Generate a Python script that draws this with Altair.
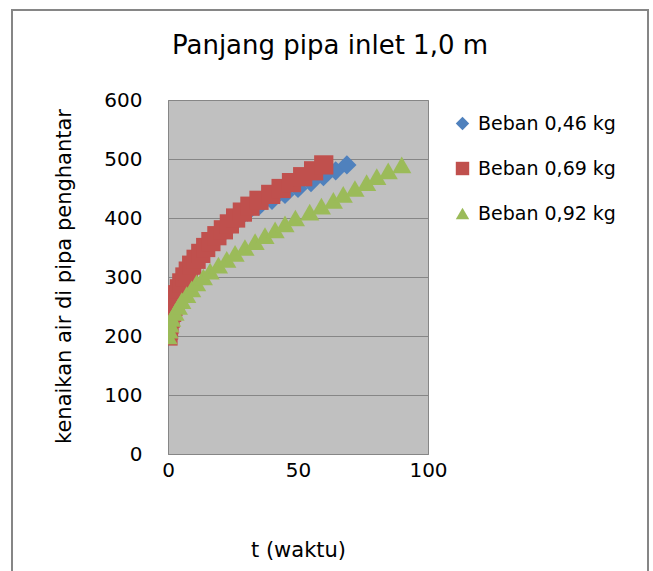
import altair as alt
import pandas as pd

heights = [200, 210, 220, 230, 240, 250, 260, 270, 280, 290,
           300, 310, 320, 330, 340, 350, 360, 370, 380, 390,
           400, 410, 420, 430, 440, 450, 460, 470, 480, 490]

t_046 = [0, 0.3, 0.6, 1.0, 1.6, 2.3, 3.1, 4.1, 5.0, 5.9,
         7.1, 8.4, 9.8, 11.6, 13.5, 15.5, 17.6, 20.0, 22.6, 25.0,
         27.6, 30.6, 35.0, 40.0, 45.0, 50.0, 55.0, 59.8, 64.5, 68.8]
t_069 = [0, 0.2, 0.4, 0.8, 1.4, 1.9, 2.7, 3.6, 4.4, 5.3,
         6.5, 7.8, 9.1, 10.8, 12.6, 14.5, 16.5, 18.8, 21.3, 23.6,
         26.0, 28.6, 31.5, 35.0, 39.5, 43.5, 47.5, 51.8, 56.0, 59.9]
t_092 = [0, 0.4, 0.8, 1.4, 2.7, 4.0, 5.3, 7.2, 9.1, 11.0,
         13.6, 16.2, 19.4, 22.6, 25.8, 29.6, 33.5, 37.3, 41.2, 45.0,
         49.0, 54.5, 59.0, 63.6, 67.4, 71.9, 76.4, 80.3, 84.7, 89.9]

series = ["Beban 0,46 kg", "Beban 0,69 kg", "Beban 0,92 kg"]
colors = ["#4F81BD", "#C0504D", "#9BBB59"]
shapes = ["diamond", "square", "triangle-up"]

rows = []
for name, ts in zip(series, [t_046, t_069, t_092]):
    for t, h in zip(ts, heights):
        rows.append({"t": t, "h": h, "seri": name})
df = pd.DataFrame(rows)

FONT = "DejaVu Sans"

points = alt.Chart(df).mark_point(filled=True, opacity=1, clip=True, size=370).encode(
    x=alt.X("t:Q", scale=alt.Scale(domain=[0, 100], nice=False),
            axis=alt.Axis(values=[0, 50, 100], title="t (waktu)", grid=False,
                          ticks=False, domainColor="#868686", labelPadding=6,
                          labelFlush=False,
                          labelFontSize=20, labelColor="#000000", labelFont=FONT,
                          titleFontSize=21, titleFont=FONT, titleFontWeight="normal",
                          titleColor="#000000", titleX=130, titleY=96,
                          titleBaseline="middle")),
    y=alt.Y("h:Q", scale=alt.Scale(domain=[0, 600], nice=False),
            axis=alt.Axis(values=[0, 100, 200, 300, 400, 500, 600],
                          title="kenaikan air di pipa penghantar",
                          grid=True, gridColor="#868686", gridWidth=1.2,
                          ticks=False, domainColor="#868686", labelPadding=26,
                          labelFlush=False,
                          labelFontSize=20, labelColor="#000000", labelFont=FONT,
                          titleFontSize=21, titleFont=FONT, titleFontWeight="normal",
                          titleColor="#000000", titleAngle=270, titleX=-104,
                          titleY=176, titleAlign="center", titleBaseline="middle")),
    color=alt.Color("seri:N", scale=alt.Scale(domain=series, range=colors),
                    legend=alt.Legend(title=None, orient="none", legendX=285, legendY=14,
                                      labelFontSize=19, labelFont=FONT,
                                      labelColor="#000000", symbolSize=180,
                                      rowPadding=25, labelOffset=6)),
    shape=alt.Shape("seri:N", scale=alt.Scale(domain=series, range=shapes), legend=None),
    order=alt.Order("seri:N", sort="ascending"),
)

frame = alt.Chart(pd.DataFrame({"a": [0]})).mark_rect(
    fill=None, stroke="#868686", strokeWidth=2
).encode(x=alt.value(-156), x2=alt.value(480), y=alt.value(-90), y2=alt.value(500))

chart = alt.layer(frame, points).properties(
    width=260, height=354,
    title=alt.TitleParams("Panjang pipa inlet 1,0 m", fontSize=26, font=FONT,
                          fontWeight="normal", color="#000000", anchor="middle",
                          dx=32, offset=-50, frame="group"),
    autosize=alt.AutoSizeParams(type="none"),
    padding={"left": 168, "top": 100, "right": 225, "bottom": 117},
    background="#ffffff",
).configure_view(fill="#C0C0C0", stroke="#868686", strokeWidth=1)

chart.save("out.html", embed_options={"renderer": "svg", "actions": False})
